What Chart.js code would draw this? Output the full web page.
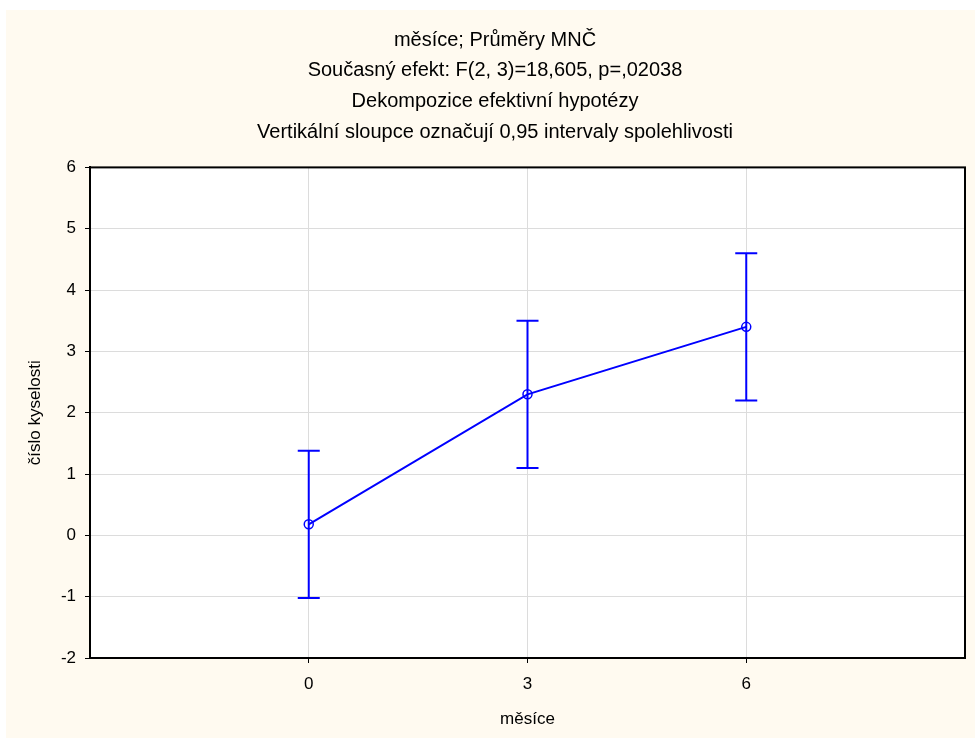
<!DOCTYPE html>
<html lang="cs">
<head>
  <meta charset="UTF-8" />
  <title>měsíce; Průměry MNČ</title>
  <script src="https://cdn.jsdelivr.net/npm/chart.js"></script>
  <style>
    html, body {
      margin: 0;
      background: #fff;
      overflow: hidden;
    }
    .frame {
      position: absolute;
      left: 6px;
      top: 10px;
      width: 969px;
      height: 728px;
      background: #fffaf0;
      overflow: hidden;
    }
    canvas {
      display: block;
    }
  </style>
</head>
<body>
  <div class="frame">
    <canvas id="chart" width="978" height="728"></canvas>
  </div>

  <script>
    const months = [0, 3, 6];
    const means = [0.18, 2.3, 3.4];
    const lower = [-1.02, 1.1, 2.2];
    const upper = [1.38, 3.5, 4.6];
    const yTicks = [-2, -1, 0, 1, 2, 3, 4, 5, 6];
    const titleLines = [
      'měsíce; Průměry MNČ',
      'Současný efekt: F(2, 3)=18,605, p=,02038',
      'Dekompozice efektivní hypotézy',
      'Vertikální sloupce označují 0,95 intervaly spolehlivosti'
    ];

    const blue = '#0000ff';
    const fontFamily = '"Liberation Sans", Arial, sans-serif';

    // one small line per month for the confidence interval, capped with 'line' points
    const errorSets = months.map((m, i) => ({
      type: 'line',
      data: [{ x: m, y: lower[i] }, { x: m, y: upper[i] }],
      borderColor: blue,
      borderWidth: 2,
      pointStyle: 'line',
      pointRadius: 11,
      pointBorderColor: blue,
      pointBorderWidth: 2,
      pointHoverRadius: 11,
      order: 2
    }));

    const plotBox = {
      id: 'plotBox',
      beforeDraw(chart) {
        const { ctx, chartArea: a } = chart;
        ctx.save();
        ctx.fillStyle = '#fff';
        ctx.fillRect(a.left, a.top, a.right - a.left, a.bottom - a.top);
        ctx.restore();
      },
      afterDraw(chart) {
        const { ctx, chartArea: a } = chart;
        ctx.save();
        ctx.strokeStyle = '#000';
        ctx.lineWidth = 2;
        ctx.strokeRect(a.left, a.top, a.right - a.left, a.bottom - a.top);
        ctx.restore();
      }
    };

    new Chart(document.getElementById('chart'), {
      type: 'line',
      data: {
        datasets: [{
          data: months.map((m, i) => ({ x: m, y: means[i] })),
          borderColor: blue,
          borderWidth: 2,
          pointStyle: 'circle',
          pointRadius: 4.5,
          pointBorderWidth: 1.5,
          pointBorderColor: blue,
          pointBackgroundColor: 'rgba(0,0,0,0)',
          order: 1
        }, ...errorSets]
      },
      options: {
        responsive: false,
        animation: false,
        layout: { padding: { left: 19, right: 19, top: 0, bottom: 0 } },
        plugins: {
          legend: { display: false },
          tooltip: { enabled: false },
          title: {
            display: true,
            text: titleLines,
            color: '#000',
            font: { family: fontFamily, size: 20, weight: 'normal', lineHeight: 1.53 },
            padding: { top: 15, bottom: 20 }
          }
        },
        scales: {
          x: {
            type: 'linear',
            min: -3,
            max: 9,
            afterBuildTicks(scale) {
              scale.ticks = months.map(v => ({ value: v }));
            },
            afterFit(scale) {
              scale.height = 80;
            },
            ticks: {
              color: '#000',
              font: { family: fontFamily, size: 17 },
              padding: 11
            },
            grid: {
              color: '#dcdcdc',
              lineWidth: 1,
              tickLength: 5,
              tickColor: '#000'
            },
            border: { color: '#000', width: 2 },
            title: {
              display: true,
              text: 'měsíce',
              color: '#000',
              font: { family: fontFamily, size: 17 },
              padding: { bottom: 8 }
            }
          },
          y: {
            min: -2,
            max: 6,
            afterBuildTicks(scale) {
              scale.ticks = yTicks.map(v => ({ value: v }));
            },
            afterFit(scale) {
              scale.width = 65;
            },
            ticks: {
              color: '#000',
              font: { family: fontFamily, size: 17 },
              padding: 9
            },
            grid: {
              color: '#dcdcdc',
              lineWidth: 1,
              tickLength: 5,
              tickColor: '#000'
            },
            border: { color: '#000', width: 2 },
            title: {
              display: true,
              text: 'číslo kyselosti',
              color: '#000',
              font: { family: fontFamily, size: 17 },
              padding: { top: 0 }
            }
          }
        }
      },
      plugins: [plotBox]
    });
  </script>
</body>
</html>
